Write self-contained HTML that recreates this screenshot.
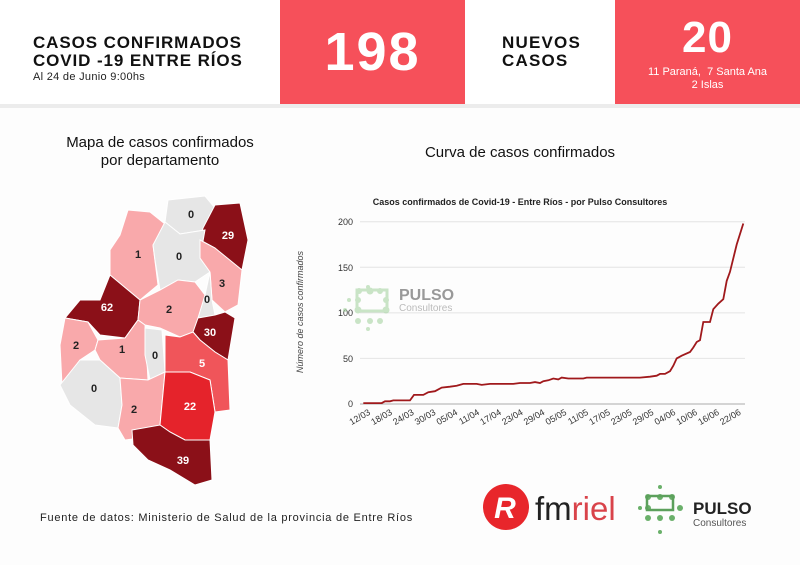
<!DOCTYPE html>
<html><head><meta charset="utf-8"><style>
body{margin:0;width:800px;height:565px;background:#fdfdfd;font-family:"Liberation Sans",sans-serif;overflow:hidden;position:relative}
.a{position:absolute}
.red{background:#f6505a;color:#fff}
</style></head><body>
<div class="a" style="left:0;top:0;width:800px;height:104px;background:#fff"></div>
<div class="a" style="left:0;top:104px;width:800px;height:4px;background:#ececec"></div>
<div class="a" style="left:33px;top:34px;font-weight:bold;font-size:17px;line-height:18px;color:#111;letter-spacing:0.9px">CASOS CONFIRMADOS<br>COVID -19 ENTRE RÍOS</div>
<div class="a" style="left:33px;top:71px;font-size:11px;color:#222;letter-spacing:0.3px">Al 24 de Junio 9:00hs</div>
<div class="a red" style="left:280px;top:0;width:185px;height:104px;text-align:center;font-weight:bold;font-size:54px;line-height:104px;letter-spacing:2px">198</div>
<div class="a" style="left:502px;top:34px;font-weight:bold;font-size:17px;line-height:18px;color:#111;letter-spacing:1.2px">NUEVOS<br>CASOS</div>
<div class="a red" style="left:615px;top:0;width:185px;height:104px;text-align:center">
<div style="font-weight:bold;font-size:44px;line-height:44px;margin-top:16px;letter-spacing:1px">20</div>
<div style="font-size:11px;line-height:13px;margin-top:6px">11 Paraná,&nbsp; 7 Santa Ana<br>2 Islas</div></div>
<div class="a" style="left:30px;top:134px;width:260px;text-align:center;font-size:15px;line-height:18px;color:#111">Mapa de casos confirmados<br>por departamento</div>
<div class="a" style="left:380px;top:144px;width:280px;text-align:center;font-size:15px;color:#111">Curva de casos confirmados</div>
<svg class="a" style="left:0;top:0" width="800" height="565">
<g stroke="#fff" stroke-width="1">
<polygon points="168,200 205,196 215,208 205,230 180,234 165,222" fill="#e6e6e6"/>
<polygon points="215,205 240,203 248,240 242,270 230,262 215,248 200,240 203,228" fill="#8b1018"/>
<polygon points="128,210 150,212 170,228 153,245 158,285 140,300 128,290 110,275 110,250 120,235" fill="#f9a9ab"/>
<polygon points="165,222 180,234 205,230 200,258 210,272 195,282 178,280 160,290 155,260 153,245" fill="#e6e6e6"/>
<polygon points="200,240 215,248 242,270 238,305 225,312 212,300 210,272 200,258" fill="#f9a9ab"/>
<polygon points="110,275 128,290 140,300 138,320 125,338 100,335 88,322 65,318 80,300 100,300" fill="#8b1018"/>
<polygon points="140,300 160,290 178,280 195,282 205,295 200,330 180,337 160,328 145,325 138,320" fill="#f9a9ab"/>
<polygon points="210,272 212,300 215,315 205,322 198,318 205,295" fill="#e6e6e6"/>
<polygon points="198,318 215,315 225,312 235,318 228,360 215,352 200,340 193,332" fill="#8b1018"/>
<polygon points="65,318 88,322 98,340 95,350 80,360 62,385 60,345" fill="#f9a9ab"/>
<polygon points="98,340 125,338 138,320 145,325 148,380 120,378 100,360 95,350" fill="#f9a9ab"/>
<polygon points="145,328 162,330 165,372 150,380 145,355" fill="#e6e6e6"/>
<polygon points="165,335 180,337 193,332 200,340 215,352 228,360 230,410 215,412 210,380 190,372 165,372" fill="#f0555a"/>
<polygon points="80,360 100,360 120,378 122,405 118,428 95,425 70,405 60,385" fill="#e6e6e6"/>
<polygon points="120,378 148,380 165,372 160,425 140,438 125,440 118,428 122,405" fill="#f9a9ab"/>
<polygon points="165,372 190,372 210,380 215,412 210,440 185,440 170,432 160,425" fill="#e5232b"/>
<polygon points="132,430 160,425 170,432 185,440 210,440 212,480 195,485 170,470 148,460 133,445" fill="#8b1018"/>
</g>
<g font-weight="bold" font-size="11" text-anchor="middle" fill="#222">
<text x="191" y="218">0</text><text x="228" y="239" fill="#fff">29</text><text x="138" y="258">1</text>
<text x="179" y="260">0</text><text x="222" y="287">3</text><text x="107" y="311" fill="#fff">62</text>
<text x="169" y="313">2</text><text x="207" y="303">0</text><text x="210" y="336" fill="#fff">30</text>
<text x="76" y="349">2</text><text x="122" y="353">1</text><text x="155" y="359">0</text>
<text x="202" y="367" fill="#fff">5</text><text x="94" y="392">0</text><text x="134" y="413">2</text>
<text x="190" y="410" fill="#fff">22</text><text x="183" y="464" fill="#fff">39</text>
</g>
<text x="520" y="205" text-anchor="middle" font-size="9" font-weight="bold" fill="#222">Casos confirmados de Covid-19 - Entre Ríos - por Pulso Consultores</text>
<g stroke="#e4e4e4" stroke-width="1">
<line x1="360" x2="745" y1="221.7" y2="221.7"/><line x1="360" x2="745" y1="267.3" y2="267.3"/>
<line x1="360" x2="745" y1="312.9" y2="312.9"/><line x1="360" x2="745" y1="358.4" y2="358.4"/>
</g>
<line x1="360" x2="745" y1="404" y2="404" stroke="#aaa"/>
<g font-size="9" fill="#333" text-anchor="end">
<text x="353" y="225">200</text><text x="353" y="271">150</text><text x="353" y="316">100</text><text x="353" y="362">50</text><text x="353" y="407">0</text>
</g>
<text transform="translate(303,312) rotate(-90)" text-anchor="middle" font-size="9" font-style="italic" fill="#444">Número de casos confirmados</text>
<g opacity="0.55" fill="#9fd09a">
<circle cx="368" cy="287" r="2"/><circle cx="359" cy="291" r="3"/><circle cx="370" cy="291" r="3.5"/><circle cx="380" cy="291" r="3"/>
<circle cx="349" cy="300" r="2"/><circle cx="358" cy="300" r="3"/><circle cx="386" cy="300" r="3"/><circle cx="358" cy="310" r="3.5"/><circle cx="386" cy="310" r="3.5"/>
<circle cx="358" cy="321" r="3"/><circle cx="370" cy="321" r="3"/><circle cx="380" cy="321" r="3"/><circle cx="368" cy="329" r="2"/><circle cx="345" cy="310" r="2"/>
<rect x="357" y="290" width="30" height="21" fill="none" stroke="#9fd09a" stroke-width="3"/>
</g>
<text x="399" y="300" font-size="16" font-weight="bold" fill="#999">PULSO</text>
<text x="399" y="311" font-size="10" fill="#bbb">Consultores</text>
<polyline id="cv" fill="none" stroke="#a0191c" stroke-width="1.8" points=""/>
<g id="xl" font-size="9" fill="#333"></g>
<g transform="translate(506,507)"><circle r="23" fill="#e8262b"/><text x="-1" y="11" font-size="30" font-style="italic" font-weight="bold" fill="#fff" text-anchor="middle">R</text></g>
<text x="535" y="520" font-size="33" fill="#222">fm<tspan fill="#d9434a">riel</tspan></text>
<g fill="#6ab06a">
<circle cx="660" cy="487" r="2"/><circle cx="648" cy="497" r="3"/><circle cx="660" cy="497" r="3"/><circle cx="672" cy="497" r="3"/>
<circle cx="640" cy="508" r="2"/><circle cx="648" cy="508" r="3"/><circle cx="680" cy="508" r="3"/><circle cx="648" cy="518" r="3"/><circle cx="660" cy="518" r="3"/><circle cx="672" cy="518" r="3"/><circle cx="660" cy="532" r="2"/>
<rect x="647" y="496" width="26" height="14" fill="none" stroke="#5ca05c" stroke-width="2.5"/>
</g>
<text x="693" y="514" font-size="17" font-weight="bold" fill="#222">PULSO</text>
<text x="693" y="526" font-size="10" fill="#555">Consultores</text>
</svg>
<div class="a" style="left:40px;top:512px;font-size:11px;color:#222;letter-spacing:0.75px">Fuente de datos: Ministerio de Salud de la provincia de Entre Ríos</div>
<script>
var d=[[220,1],[275,1],[285,3],[300,3],[310,4],[360,4],[372,10],[400,10],[415,13],[435,14],[455,18],[480,19],[500,20],[520,22],[560,22],[575,21],[600,22],[670,22],[690,23],[720,23],[735,24],[750,23],[760,25],[775,26],[790,28],[805,27],[815,29],[835,28],[880,28],[890,29],[1050,29],[1080,30],[1100,31],[1110,33],[1125,33],[1140,36],[1150,42],[1160,50],[1175,53],[1200,57],[1210,62],[1220,68],[1230,70],[1240,90],[1260,90],[1270,104],[1285,110],[1300,115],[1310,135],[1320,145],[1340,175],[1360,198]];
document.getElementById('cv').setAttribute('points',d.map(function(p){return (290+p[0]/3).toFixed(1)+','+(404-p[1]*0.9115).toFixed(1)}).join(' '));
var l=['12/03','18/03','24/03','30/03','05/04','11/04','17/04','23/04','29/04','05/05','11/05','17/05','23/05','29/05','04/06','10/06','16/06','22/06'],g=document.getElementById('xl'),s='';
for(var i=0;i<l.length;i++){var x=363+i*21.8;s+='<text text-anchor="end" transform="translate('+(x+8)+',414) rotate(-30)">'+l[i]+'</text>';}
g.innerHTML=s;
</script>
</body></html>
